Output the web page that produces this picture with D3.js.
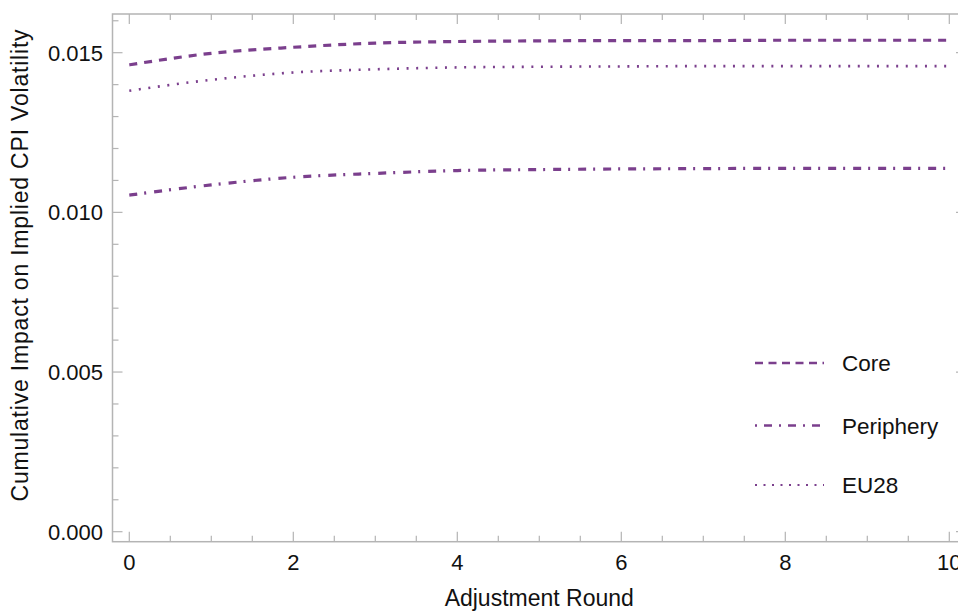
<!DOCTYPE html>
<html>
<head>
<meta charset="utf-8">
<script src="https://cdn.jsdelivr.net/npm/d3@7"></script>
<style>
  body { margin: 0; background: #fff; }
  text { font-family: "Liberation Sans", Arial, sans-serif; fill: #111; }
</style>
</head>
<body>
<script>
'use strict'

// data
const rounds = [0, 1, 2, 3, 4, 5, 6, 7, 8, 9, 10]
const core = [0.01462, 0.01498, 0.01517, 0.01530, 0.01535, 0.01537, 0.01538, 0.01538, 0.01539, 0.01539, 0.01539]
const periphery = [0.01054, 0.01086, 0.01110, 0.01122, 0.01131, 0.01134, 0.01136, 0.01137, 0.01138, 0.01138, 0.01138]
const eu28 = [0.01381, 0.01415, 0.01438, 0.01448, 0.01454, 0.01456, 0.01457, 0.01458, 0.01458, 0.01458, 0.01458]
const seriesNames = ['Core', 'Periphery', 'EU28']
const xTicks = [0, 2, 4, 6, 8, 10]
const yTicks = [0.000, 0.005, 0.010, 0.015]

const W = 958, H = 611
const purple = '#7b3f8d'
const frameColor = '#b4b4b4'
const dashes = {Core: '8,7', Periphery: '8,7,2,8', EU28: '2,7.6'}

const svg = d3.select('body').append('svg')
  .attr('width', W)
  .attr('height', H)

// frame runs past the right edge of the picture, like the reference
const frame = {left: 112.5, right: 966, top: 14, bottom: 541.7}

const x = d3.scaleLinear().domain([0, 10]).range([129.3, 949.3])
const y = d3.scaleLinear().domain([0, 0.015]).range([531.7, 52.7])

const g = svg.append('g')

// frame
g.append('rect')
  .attr('x', frame.left)
  .attr('y', frame.top)
  .attr('width', frame.right - frame.left)
  .attr('height', frame.bottom - frame.top)
  .attr('fill', 'none')
  .attr('stroke', frameColor)
  .attr('stroke-width', 1.5)

// ticks (all inward, mirrored on the opposite side)
const xMinor = d3.range(0, 10.01, 0.5).filter(v => v % 2 !== 0)
const yMinor = d3.range(0, 17).map(v => v / 1000).filter(v => Math.round(v * 1000) % 5 !== 0)

function xTick (v, len) {
  g.append('line').attr('x1', x(v)).attr('x2', x(v))
    .attr('y1', frame.bottom).attr('y2', frame.bottom - len)
    .attr('stroke', frameColor).attr('stroke-width', 1.2)
  g.append('line').attr('x1', x(v)).attr('x2', x(v))
    .attr('y1', frame.top).attr('y2', frame.top + len)
    .attr('stroke', frameColor).attr('stroke-width', 1.2)
}
function yTick (v, len) {
  g.append('line').attr('y1', y(v)).attr('y2', y(v))
    .attr('x1', frame.left).attr('x2', frame.left + len)
    .attr('stroke', frameColor).attr('stroke-width', 1.2)
  g.append('line').attr('y1', y(v)).attr('y2', y(v))
    .attr('x1', frame.right).attr('x2', frame.right - len)
    .attr('stroke', frameColor).attr('stroke-width', 1.2)
}
xTicks.forEach(v => xTick(v, 10))
xMinor.forEach(v => xTick(v, 6))
yTicks.forEach(v => yTick(v, 10))
yMinor.forEach(v => yTick(v, 6))

// tick labels
g.selectAll('text.xl').data(xTicks).enter().append('text')
  .attr('class', 'xl')
  .attr('x', d => x(d))
  .attr('y', 569.5)
  .attr('text-anchor', 'middle')
  .attr('font-size', 22)
  .text(d => d)

g.selectAll('text.yl').data(yTicks).enter().append('text')
  .attr('class', 'yl')
  .attr('x', 103)
  .attr('y', d => y(d) + 8)
  .attr('text-anchor', 'end')
  .attr('font-size', 22)
  .text(d => d3.format('.3f')(d))

// axis titles
g.append('text')
  .attr('x', (frame.left + frame.right) / 2)
  .attr('y', 606)
  .attr('text-anchor', 'middle')
  .attr('font-size', 23)
  .text('Adjustment Round')

g.append('text')
  .attr('transform', 'translate(28, 265) rotate(-90)')
  .attr('text-anchor', 'middle')
  .attr('font-size', 23)
  .attr('letter-spacing', 0.8)
  .text('Cumulative Impact on Implied CPI Volatility')

// series
const series = [
  {name: 'Core', values: core},
  {name: 'Periphery', values: periphery},
  {name: 'EU28', values: eu28}
]

const line = d3.line()
  .x((d, i) => x(rounds[i]))
  .y(d => y(d))
  .curve(d3.curveMonotoneX)

g.selectAll('path.series').data(series).enter().append('path')
  .attr('class', 'series')
  .attr('d', d => line(d.values))
  .attr('fill', 'none')
  .attr('stroke', purple)
  .attr('stroke-width', d => d.name === 'EU28' ? 2.6 : 3.2)
  .attr('stroke-dasharray', d => dashes[d.name])

// legend
const legendY = [363, 425.5, 485]
const leg = g.selectAll('g.leg').data(seriesNames).enter().append('g')
  .attr('class', 'leg')
  .attr('transform', (d, i) => `translate(0, ${legendY[i]})`)
leg.append('line')
  .attr('x1', 755).attr('x2', 824)
  .attr('stroke', purple)
  .attr('stroke-width', d => d === 'EU28' ? 2 : 2.4)
  .attr('stroke-dasharray', d => d === 'Core' ? '8,5.5' : d === 'Periphery' ? '2,7,8,7' : '2,6.5')
leg.append('text')
  .attr('x', 842)
  .attr('y', 8)
  .attr('font-size', 22.5)
  .text(d => d)
</script>
</body>
</html>
